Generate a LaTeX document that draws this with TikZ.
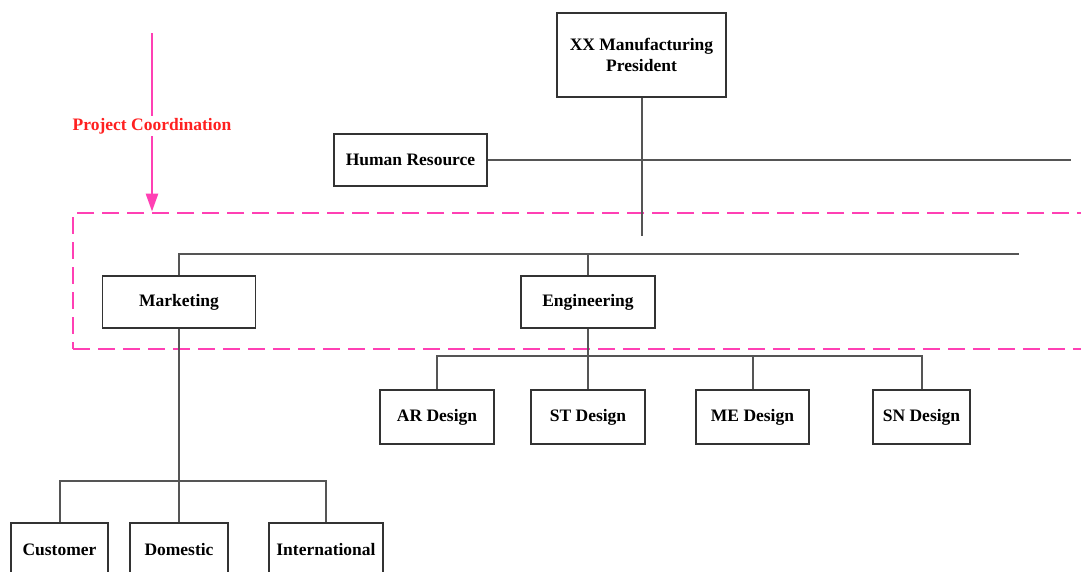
\documentclass[tikz,border=0pt]{standalone}
\usepackage{fontspec}
\setmainfont{Liberation Serif}
\usetikzlibrary{arrows.meta}
\definecolor{linegray}{HTML}{555555}
\definecolor{boxgray}{HTML}{333333}
\definecolor{grppink}{HTML}{FF40B4}
\definecolor{lblred}{HTML}{FF2020}
\begin{document}
\begin{tikzpicture}[x=1pt,y=-1pt,
  unit/.style={draw=boxgray, line width=1.3pt, fill=white, inner sep=0pt,
    font=\fontsize{17.5}{21}\selectfont\bfseries, text=black, align=center},
  link/.style={draw=linegray, line width=2pt},
  grpbox/.style={draw=grppink, line width=2.8pt, dash pattern=on 17pt off 8pt, inner sep=0pt},
  pcarrow/.style={draw=grppink, line width=2.6pt, -{Triangle[length=18pt,width=12pt]}}]
\useasboundingbox (0,0) rectangle (1081,571);
\clip (0,0) rectangle (1081,571);
\fill[white] (0,0) rectangle (1081,571);

% project coordination group
\node (grp) [grpbox, minimum width=1030pt, minimum height=136pt] at (588,281) {};

% units
\node (pres) [unit, minimum width=169pt, minimum height=84pt] at (641.5,55) {XX Manufacturing\\President};
\node (hr)   [unit, minimum width=153pt, minimum height=52pt] at (410.5,160) {Human Resource};
\node (mkt)  [unit, minimum width=153pt, minimum height=52pt] at (179,302) {Marketing};
\node (eng)  [unit, minimum width=134pt, minimum height=52pt] at (588,302) {Engineering};
\node (ar)   [unit, minimum width=114pt, minimum height=54pt] at (437,417) {AR Design};
\node (st)   [unit, minimum width=114pt, minimum height=54pt] at (588,417) {ST Design};
\node (me)   [unit, minimum width=113pt, minimum height=54pt] at (752.5,417) {ME Design};
\node (sn)   [unit, minimum width=97pt,  minimum height=54pt] at (921.5,417) {SN Design};
\node (cust) [unit, minimum width=97pt,  minimum height=54pt] at (59.5,550) {Customer};
\node (dom)  [unit, minimum width=98pt,  minimum height=54pt] at (179,550) {Domestic};
\node (intl) [unit, minimum width=114pt, minimum height=54pt] at (326,550) {International};

% free ends and bus points
\coordinate (presEnd) at (641.5,236);
\coordinate (hrEnd) at (1071,160);
\coordinate (topBus) at (1019,254);
\coordinate (engBus) at (588,356);
\coordinate (mktBus) at (179,481);
\coordinate (pcTop) at (152,33);

% connectors
\draw[link] (pres.south) -- (presEnd);
\draw[link] (hr.east) -- (hrEnd);
\draw[link] (mkt.north) |- (topBus);
\draw[link] (eng.north) -- (eng.north |- topBus);
\draw[link] (eng.south) -- (st.north);
\draw[link] (ar.north) |- (engBus) -| (sn.north);
\draw[link] (me.north) -- (me.north |- engBus);
\draw[link] (mkt.south) -- (dom.north);
\draw[link] (cust.north) |- (mktBus) -| (intl.north);

% coordination arrow
\draw[pcarrow] (pcTop) -- (grp.north -| pcTop)
  node[pos=0.52, fill=white, inner sep=2pt, text=lblred,
       font=\fontsize{17.5}{21}\selectfont\bfseries] (pclbl) {Project Coordination};
\end{tikzpicture}
\end{document}
